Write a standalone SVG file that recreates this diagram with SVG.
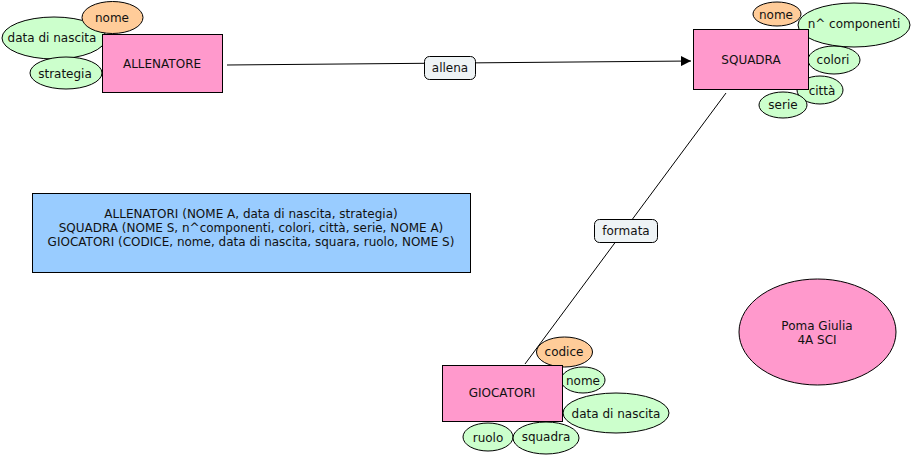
<svg xmlns="http://www.w3.org/2000/svg" width="911" height="458" viewBox="0 0 911 458">
<defs>
<style>
text{font-family:"DejaVu Sans","Verdana",sans-serif;font-size:12px;fill:#111;text-anchor:middle}
.ent{fill:#ff99cc;stroke:#000;stroke-width:1}
.attr{fill:#ccffcc;stroke:#000;stroke-width:1}
.key{fill:#ffcc99;stroke:#000;stroke-width:1}
.lbl{fill:#eef3f5;stroke:#000;stroke-width:1}
.ln{stroke:#000;stroke-width:1;fill:none}
</style>
<marker id="arr" viewBox="0 0 10 10" refX="10" refY="5" markerWidth="10" markerHeight="10" markerUnits="userSpaceOnUse" orient="auto">
<path d="M0,0 L10,5 L0,10 z" fill="#000"/>
</marker>
</defs>
<rect width="911" height="458" fill="#fff"/>
<g id="connectors">
<line class="ln" x1="227" y1="65" x2="691" y2="61" marker-end="url(#arr)"/>
<line class="ln" x1="726" y1="93" x2="525" y2="364"/>
<g id="lbl-allena"><rect class="lbl" x="424.5" y="56.5" width="51" height="23" rx="5"/><text x="450" y="72">allena</text></g>
<g id="lbl-formata"><rect class="lbl" x="594.5" y="219.5" width="63" height="23" rx="5"/><text x="626" y="235">formata</text></g>
</g>
<g id="allenatore-attrs">
<g id="a-data"><ellipse class="attr" cx="54" cy="38" rx="52" ry="21"/><text x="52" y="42">data di nascita</text></g>
<g id="a-strategia"><ellipse class="attr" cx="66" cy="73" rx="36" ry="16"/><text x="65" y="78">strategia</text></g>
<g id="a-nome"><ellipse class="key" cx="112.5" cy="17.5" rx="30.5" ry="16"/><text x="112" y="22">nome</text></g>
</g>
<g id="allenatore"><rect class="ent" x="102.5" y="34.5" width="120" height="58"/><text x="162" y="68">ALLENATORE</text></g>
<g id="squadra-attrs">
<g id="s-citta"><ellipse class="attr" cx="820" cy="90" rx="23" ry="14"/><text x="822" y="95">città</text></g>
<g id="s-serie"><ellipse class="attr" cx="783" cy="105" rx="24" ry="13"/><text x="783" y="109">serie</text></g>
<g id="s-colori"><ellipse class="attr" cx="834" cy="60" rx="26" ry="14"/><text x="833" y="64">colori</text></g>
<g id="s-ncomp"><ellipse class="attr" cx="854" cy="25" rx="56" ry="22"/><text x="854" y="28">n^ componenti</text></g>
<g id="s-nome"><ellipse class="key" cx="777" cy="14" rx="24" ry="12"/><text x="776" y="19">nome</text></g>
</g>
<g id="squadra"><rect class="ent" x="693.5" y="29.5" width="115" height="60"/><text x="751" y="64">SQUADRA</text></g>
<g id="giocatori-attrs">
<g id="g-nome"><ellipse class="attr" cx="583" cy="380" rx="22" ry="13"/><text x="583" y="385">nome</text></g>
<g id="g-data"><ellipse class="attr" cx="616" cy="413" rx="53" ry="20"/><text x="616" y="418">data di nascita</text></g>
<g id="g-ruolo"><ellipse class="attr" cx="488" cy="437" rx="25" ry="14"/><text x="488" y="442">ruolo</text></g>
<g id="g-squadra"><ellipse class="attr" cx="546" cy="438" rx="33" ry="16"/><text x="546" y="441">squadra</text></g>
<g id="g-codice"><ellipse class="key" cx="564.5" cy="352" rx="28" ry="15"/><text x="564" y="356">codice</text></g>
</g>
<g id="giocatori"><rect class="ent" x="442.5" y="365.5" width="120" height="56"/><text x="502" y="397">GIOCATORI</text></g>
<g id="schema"><rect x="32.5" y="193.5" width="438" height="79" fill="#99ccff" stroke="#000"/>
<text x="251" y="218">ALLENATORI (NOME A, data di nascita, strategia)</text>
<text x="251" y="232">SQUADRA (NOME S, n^componenti, colori, città, serie, NOME A)</text>
<text x="251" y="246">GIOCATORI (CODICE, nome, data di nascita, squara, ruolo, NOME S)</text>
</g>
<g id="autore"><ellipse class="ent" cx="817.5" cy="332" rx="78.5" ry="53"/>
<text x="817" y="330">Poma Giulia</text><text x="817" y="344">4A SCI</text></g>
</svg>
